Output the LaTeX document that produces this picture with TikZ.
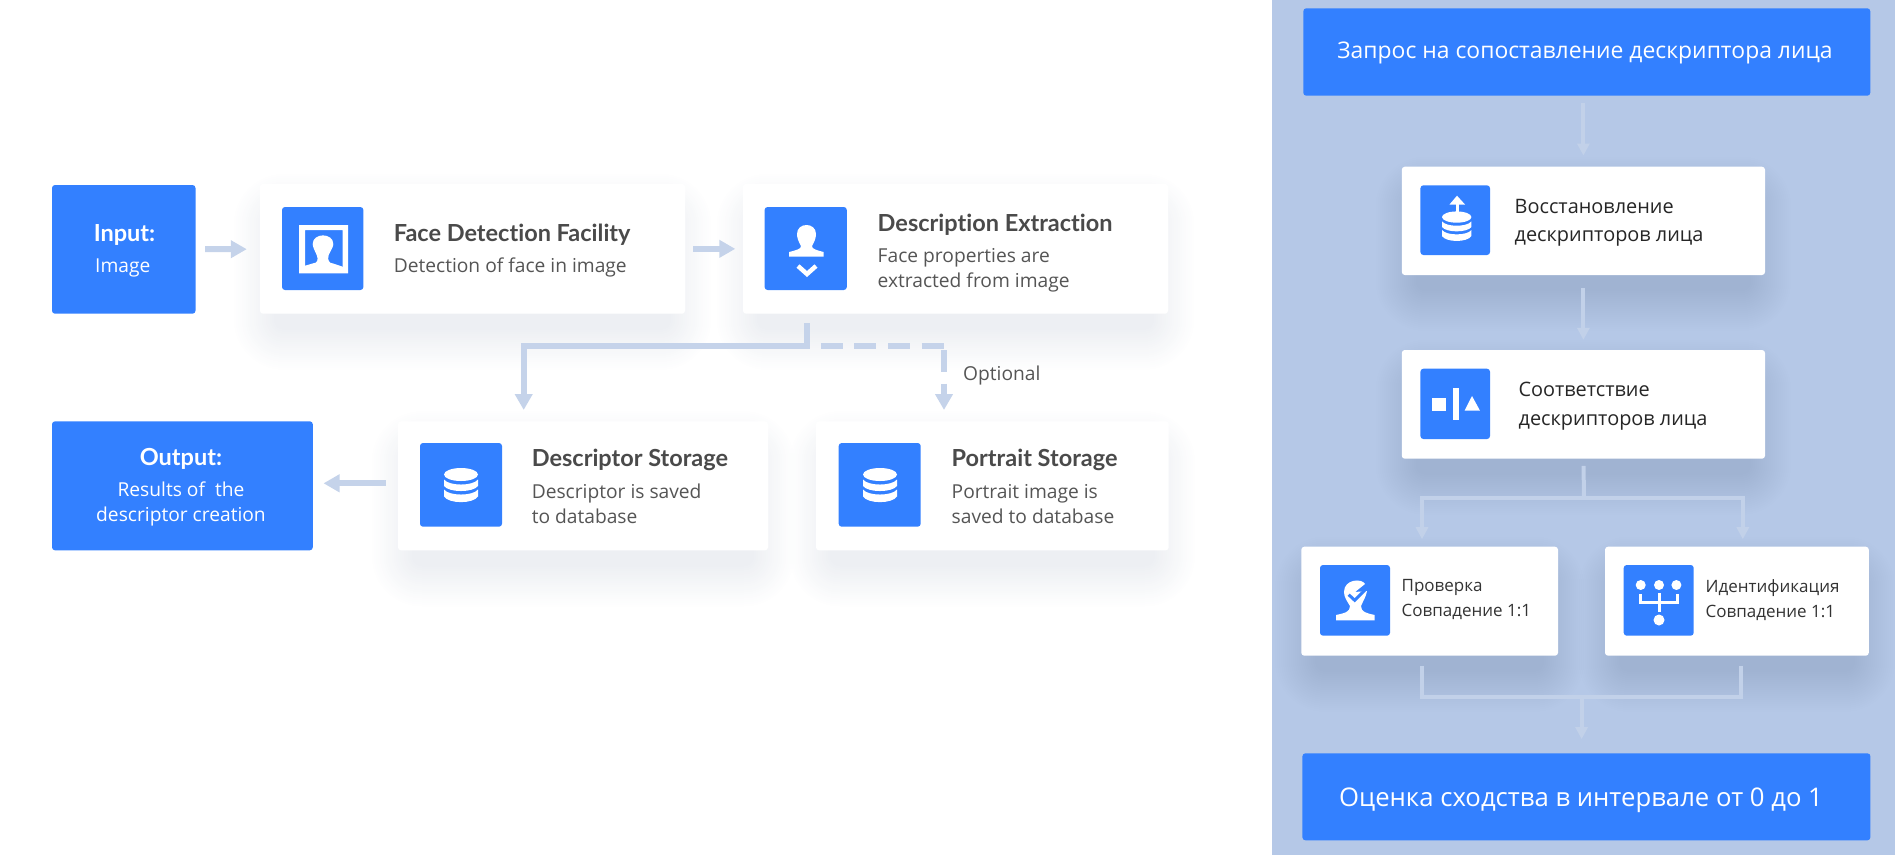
\documentclass[tikz,border=0pt]{standalone}
\usepackage{fontspec}
\usepackage{xcolor}
\usepackage{tikz}
\usetikzlibrary{arrows.meta,backgrounds}
\setmainfont{Open Sans}
\newfontfamily\headfont[Ligatures=NoCommon]{Lato}
\definecolor{brandblue}{HTML}{3380FF}
\definecolor{panelblue}{HTML}{B5C8E7}
\definecolor{flowblue}{HTML}{C5D3EA}
\definecolor{flowpale}{HTML}{C2D1E9}
\definecolor{inktitle}{HTML}{4A4A4A}
\definecolor{inksub}{HTML}{555555}
\definecolor{shadeink}{HTML}{28406E}
\tikzset{
  blankbox/.style={inner sep=0pt, rounded corners=3pt},
  bluebox/.style={blankbox, fill=brandblue},
  card/.style={blankbox, fill=white},
  iconbox/.style={blankbox, fill=brandblue},
  title/.style={anchor=base west, inner sep=0pt, text=inktitle, font=\headfont\bfseries\fontsize{23.5}{28}\selectfont},
  sub/.style={anchor=base west, inner sep=0pt, align=left, text=inksub, font=\fontsize{19.2}{25}\selectfont},
  boxtitle/.style={anchor=base, inner sep=0pt, text=white, font=\headfont\bfseries\fontsize{23.5}{28}\selectfont},
  boxsub/.style={anchor=base, inner sep=0pt, align=center, text=white, font=\fontsize{19.2}{25}\selectfont},
  bigtext/.style={anchor=base, inner sep=0pt, text=white, font=\fontsize{22.9}{28}\selectfont},
  bigscore/.style={bigtext, font=\fontsize{25.7}{30}\selectfont},
  ru/.style={anchor=base west, inner sep=0pt, text=black!85, font=\fontsize{19.9}{28}\selectfont},
  rusmall/.style={anchor=base west, inner sep=0pt, text=black!80, font=\fontsize{17}{25}\selectfont},
  flow/.style={draw=flowblue, line width=6pt, -{Triangle[length=16pt,width=17pt]}},
  flowplain/.style={draw=flowblue, line width=6pt},
  flowdash/.style={flow, dash pattern=on 22pt off 11.6pt},
  pale/.style={draw=flowpale, line width=4pt, -{Triangle[length=12pt,width=12pt]}},
  paleplain/.style={draw=flowpale, line width=4pt},
  whiteline/.style={draw=white, line width=3pt},
}
% three stacked discs, (#1,#2) is the middle, #3 the half width
\newcommand{\dbicon}[3]{
  \begin{scope}[shift={(#1,#2)}, scale=#3/17]
    \fill[white] (0,-11.5) ellipse [x radius=17pt, y radius=6.5pt];
    \fill[white] (-17,-6.5) -- (-17,0) .. controls (-12,6.7) and (12,6.7) .. (17,0) -- (17,-6.5) .. controls (12,0.2) and (-12,0.2) .. (-17,-6.5) -- cycle;
    \fill[white] (-17,3.5) -- (-17,10.5) .. controls (-12,18) and (12,18) .. (17,10.5) -- (17,3.5) .. controls (12,10.2) and (-12,10.2) .. (-17,3.5) -- cycle;
  \end{scope}
}
\begin{document}
\begin{tikzpicture}[x=1pt, y=-1pt]
  \useasboundingbox (0,0) rectangle (1895,855);

  % left part
  \node[bluebox, minimum width=143.5pt, minimum height=128.7pt] (input) at (123.75,249.35) {};
  \node[card, minimum width=425pt, minimum height=129.7pt] (face) at (472.5,248.85) {};
  \node[card, minimum width=425pt, minimum height=129.7pt] (extract) at (955.5,248.85) {};
  \node[bluebox, minimum width=260.8pt, minimum height=129pt] (output) at (182.4,485.8) {};
  \node[card, minimum width=370pt, minimum height=129pt] (descstore) at (583,485.8) {};
  \node[card, minimum width=352.7pt, minimum height=129pt] (portstore) at (992.35,485.8) {};

  \node[boxtitle] (inputtitle) at (124.5,241.7) {Input:};
  \node[boxsub, anchor=base west] (inputsub) at (95,272.7) {Image};
  \node[boxtitle] (outputtitle) at (181,465) {Output:};
  \node[boxsub] (outputsub) at (181,521.7) {Results of\ \ the\\descriptor creation};

  \node[iconbox, minimum width=81.4pt, minimum height=83pt] (faceicon) at (322.7,248.5) {};
  \node[iconbox, minimum width=82.2pt, minimum height=83pt] (extracticon) at (805.7,248.5) {};
  \node[iconbox, minimum width=82pt, minimum height=83.7pt] (descicon) at (461,484.85) {};
  \node[iconbox, minimum width=82pt, minimum height=83.7pt] (porticon) at (879.7,484.85) {};

  \node[title] (facetitle) at (393.6,241.7) {Face Detection Facility};
  \node[sub] (facesub) at (393.6,272.7) {Detection of face in image};
  \node[title] (extracttitle) at (877.5,231.7) {Description Extraction};
  \node[sub] (extractsub) at (877.5,287.7) {Face properties are\\extracted from image};
  \node[title] (desctitle) at (531.6,466.7) {Descriptor Storage};
  \node[sub] (descsub) at (531.6,523) {Descriptor is saved\\to database};
  \node[title] (porttitle) at (951.5,466.7) {Portrait Storage};
  \node[sub] (portsub) at (951.5,523) {Portrait image is\\saved to database};
  \node[sub] (optional) at (963,380) {Optional};

  % icons of the left part
  \fill[white, even odd rule] (299,225) rectangle (348,273.3) (305,230) rectangle (342.7,267);
  \fill[white] (305,265.7) -- (316,262.5) .. controls (318.5,260) and (317.5,257) .. (316.7,255) .. controls (314.5,250) and (312.7,247) .. (312.7,244) .. controls (312.7,232.5) and (333.3,232.5) .. (333.3,244) .. controls (333.3,247) and (331,250) .. (328.7,255) .. controls (328,257) and (327.5,260) .. (330,262.5) -- (342.7,266.7) -- (342.7,268) -- (305,268) -- cycle;
  \fill[white] (789,256.7) -- (789,252) .. controls (797,250) and (801,249) .. (801,246) .. controls (798,241) and (797,237) .. (797,234) .. controls (797,222) and (816,222) .. (816,234) .. controls (816,237) and (815,241) .. (812,246) .. controls (812,249) and (816,250) .. (823.6,252) -- (823.6,256.7) -- cycle;
  \draw[white, line width=4.5pt] (798,266) -- (807,274) -- (816,266);
  \dbicon{461}{486}{17}
  \dbicon{880}{486}{17}

  \coordinate (splitpt) at (806.8,345.5);
  \coordinate (portturn) at (944,345.5);
  \coordinate (descin) at (523.7,421);
  \coordinate (portin) at (944,421);
  \draw[flow, shorten <=9.5pt, shorten >=13pt] (input) -- (face);
  \draw[flow, shorten <=8pt, shorten >=7.5pt] (face) -- (extract);
  \draw[flow, shorten <=12pt, shorten >=10.5pt] ([yshift=2.5pt]descstore.west) -- ([yshift=2.5pt]output.east);
  \draw[flow, shorten <=9.5pt, shorten >=11pt] (splitpt |- extract.south) -- (splitpt) -| (descin);
  \draw[flowplain, dash pattern=on 22pt off 11.6pt, dash phase=19.6pt] (splitpt) -- (portturn);
  \draw[flowdash, dash phase=29.1pt, shorten >=11pt] (portturn) -- (portin);

  % right part
  \node[bluebox, minimum width=567pt, minimum height=87.4pt] (request) at (1586.8,52) {};
  \node[card, minimum width=363.2pt, minimum height=108.3pt] (restore) at (1583.4,220.85) {};
  \node[card, minimum width=363.2pt, minimum height=108.7pt] (match) at (1583.4,404.35) {};
  \node[card, minimum width=256.7pt, minimum height=109pt] (verify) at (1429.65,601.2) {};
  \node[card, minimum width=263.8pt, minimum height=109pt] (identify) at (1736.9,601.2) {};
  \node[bluebox, minimum width=568pt, minimum height=87pt] (score) at (1586.4,796.8) {};

  \node[bigtext] (requesttext) at (1585,58.5) {Запрос на сопоставление дескриптора лица};
  \node[bigscore] (scoretext) at (1581,806.7) {Оценка сходства в интервале от 0 до 1};
  \node[ru] (restoretop) at (1514.4,213.3) {Восстановление};
  \node[ru] (restorelow) at (1514.4,241.7) {дескрипторов лица};
  \node[ru] (matchtop) at (1518.4,396.7) {Соответствие};
  \node[ru] (matchlow) at (1518.4,425) {дескрипторов лица};
  \node[rusmall] (verifytop) at (1401.4,591.7) {Проверка};
  \node[rusmall] (verifylow) at (1401.4,616.7) {Совпадение 1:1};
  \node[rusmall] (identtop) at (1705.5,592.7) {Идентификация};
  \node[rusmall] (identlow) at (1705.5,617.7) {Совпадение 1:1};

  \node[iconbox, minimum width=69.6pt, minimum height=69.7pt] (restoreicon) at (1455.2,220.15) {};
  \node[iconbox, minimum width=69.6pt, minimum height=70.3pt] (matchicon) at (1455.2,403.85) {};
  \node[iconbox, minimum width=70pt, minimum height=70.7pt] (verifyicon) at (1355,600.35) {};
  \node[iconbox, minimum width=70pt, minimum height=70.7pt] (identicon) at (1658.7,600.35) {};

  % icons of the right part
  \dbicon{1456.7}{227}{14.7}
  \draw[whiteline] (1457,212) -- (1457,202);
  \fill[white] (1449.5,204.5) -- (1457,195.7) -- (1465,204.5) -- cycle;
  \fill[white] (1431.7,398.3) rectangle (1445.5,410.7);
  \fill[white] (1453,387.7) rectangle (1458.5,420);
  \fill[white] (1464.5,410.7) -- (1472,396) -- (1480,410.7) -- cycle;
  \fill[white] (1336,620.3) -- (1336,615) .. controls (1345,613) and (1350,612) .. (1350,606) .. controls (1347,601) and (1344,597) .. (1344,592) .. controls (1344,579) and (1362,578) .. (1365,584) -- (1355,592) -- (1367,591) .. controls (1366,597) and (1363,601) .. (1361,606) .. controls (1361,612) and (1366,613) .. (1374.7,615) -- (1374.7,620.3) -- cycle;
  \draw[brandblue, line width=3pt] (1348.7,594.7) -- (1354.7,600.3) -- (1367,588);
  \fill[white] (1640.7,585) circle [radius=5pt] (1659,585) circle [radius=5pt] (1676.4,585) circle [radius=5pt] (1659,620) circle [radius=5.5pt];
  \draw[whiteline] (1640,594) -- (1640,602) -- (1677,602) -- (1677,594);
  \draw[whiteline] (1659,593) -- (1659,611.7);

  \coordinate (splitb) at (1584,497.5);
  \coordinate (verifyin) at (1422,546.7);
  \coordinate (identin) at (1742.8,546.7);
  \coordinate (verifyout) at (1422,655.7);
  \coordinate (identout) at (1741,655.7);
  \coordinate (mergept) at (1581.6,697.3);
  \draw[pale, shorten <=7pt, shorten >=11pt] (restore |- request.south) -- (restore.north);
  \draw[pale, shorten <=13pt, shorten >=10pt] (restore.south) -- (match.north);
  \draw[paleplain, shorten <=7pt] (match.south) -- (splitb);
  \draw[pale, shorten >=7.5pt] (splitb) -| (verifyin);
  \draw[pale, shorten >=7.5pt] (splitb) -| (identin);
  \draw[paleplain, shorten <=10pt] (verifyout) |- (mergept);
  \draw[paleplain, shorten <=10pt] (identout) |- (mergept);
  \draw[pale, shorten >=14pt] (mergept) -- (mergept |- score.north);

  \begin{scope}[on background layer]
    \fill[panelblue] (1272,0) rectangle (1895,855);
    % soft shadow below the cards
    \foreach \n in {face,extract,descstore,portstore,restore,match,verify,identify}
      \foreach \s in {0,2,...,40}
        \fill[shadeink, opacity=.0035, rounded corners={(10+\s)*1pt}]
          ([xshift={14-\s}, yshift={-16-\s}]\n.south west) rectangle ([xshift={\s-14}, yshift={\s-30}]\n.north east);
  \end{scope}
\end{tikzpicture}
\end{document}
